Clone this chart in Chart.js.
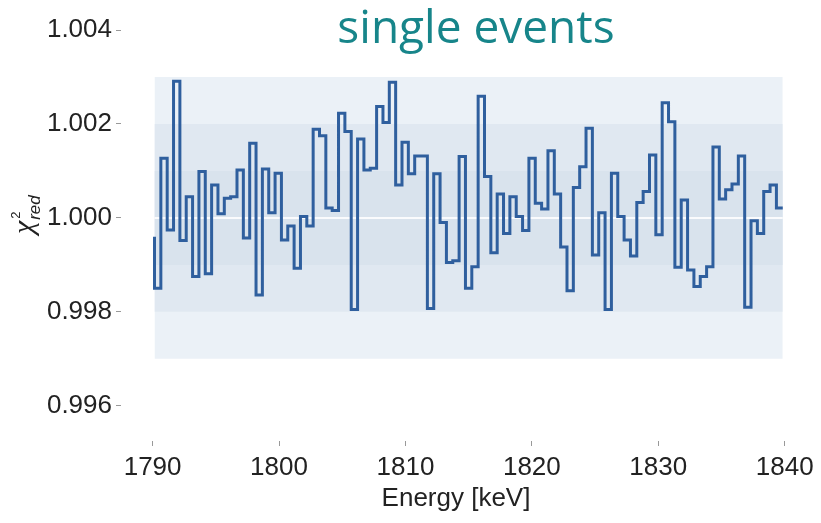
<!DOCTYPE html>
<html>
<head>
<meta charset="utf-8">
<script src="https://cdn.jsdelivr.net/npm/chart.js@4"></script>
<style>
  html, body { margin: 0; padding: 0; background: #ffffff; }
  #wrap { width: 821px; height: 523px; position: relative; }
</style>
</head>
<body>
<div id="wrap"><canvas id="chart" width="821" height="523"></canvas></div>
<script>
// Reduced chi-square per energy bin, single events
const binStart = 1790.15;   // keV, lower edge of the first bin
const binWidth = 0.502;     // keV
const chiStart = 0.99960;   // level the step trace starts from
const chiRed = [
  0.99850, 1.00127, 0.99974, 1.00291, 0.99952, 1.00045, 0.99875, 1.00099, 0.99881, 1.00070,
  1.00009, 1.00042, 1.00045, 1.00102, 0.99957, 1.00159, 0.99836, 1.00104, 1.00011, 1.00095,
  0.99953, 0.99983, 0.99893, 1.00003, 0.99983, 1.00189, 1.00175, 1.00021, 1.00016, 1.00223,
  1.00184, 0.99805, 1.00168, 1.00102, 1.00106, 1.00237, 1.00203, 1.00289, 1.00070, 1.00161,
  1.00094, 1.00132, 1.00132, 0.99807, 1.00094, 0.99990, 0.99905, 0.99909, 1.00131, 0.99850,
  0.99896, 1.00259, 1.00088, 0.99926, 1.00051, 0.99967, 1.00045, 1.00003, 0.99973, 1.00127,
  1.00031, 1.00019, 1.00143, 1.00051, 0.99938, 0.99845, 1.00065, 1.00109, 1.00191, 0.99921,
  1.00011, 0.99805, 1.00095, 1.00003, 0.99953, 0.99919, 1.00033, 1.00056, 1.00134, 0.99964,
  1.00245, 1.00205, 0.99895, 1.00038, 0.99889, 0.99854, 0.99875, 0.99896, 1.00151, 1.00040,
  1.00060, 1.00072, 1.00132, 0.99810, 0.99994, 0.99967, 1.00056, 1.00070, 1.00021
];
const expected = 1.000;
const sigmaLevels = [0.003, 0.002, 0.001];          // 3σ, 2σ, 1σ half-widths
const xTicks = [1790, 1800, 1810, 1820, 1830, 1840];
const yTicks = [0.996, 0.998, 1.000, 1.002, 1.004];

const bandColors = ['#ebf1f7', '#e0e8f1', '#d9e3ed'];
const lineColor = '#2f5f9e';
const tickFont = { family: 'Liberation Sans, Arial, sans-serif', size: 26 };

const nBins = chiRed.length;
const edges = [];
for (let i = 0; i <= nBins; i++) edges.push(binStart + i * binWidth);
const xLo = edges[0], xHi = edges[nBins];

// Step trace: each value holds over its bin
const stepPoints = [{ x: xLo, y: chiStart }];
chiRed.forEach((v, i) => stepPoints.push({ x: edges[i], y: v }));
stepPoints.push({ x: xHi, y: chiRed[nBins - 1] });

const datasets = [];
sigmaLevels.forEach((s, k) => {
  datasets.push({
    data: [{ x: xLo, y: expected + s }, { x: xHi, y: expected + s }],
    borderWidth: 0, pointRadius: 0, backgroundColor: bandColors[k],
    fill: '+1', order: 20 - k
  });
  datasets.push({
    data: [{ x: xLo, y: expected - s }, { x: xHi, y: expected - s }],
    borderWidth: 0, pointRadius: 0, fill: false, order: 20 - k
  });
});
datasets.push({
  data: [{ x: xLo, y: expected }, { x: xHi, y: expected }],
  borderColor: 'rgba(255,255,255,0.85)', borderWidth: 2, pointRadius: 0,
  fill: false, order: 5
});
datasets.push({
  data: stepPoints, stepped: 'before', borderColor: lineColor, borderWidth: 3,
  pointRadius: 0, fill: false, order: 0, borderJoinStyle: 'miter'
});

const overlayText = {
  id: 'overlayText',
  afterDraw(chart) {
    const ctx = chart.ctx;
    ctx.save();
    // heading
    ctx.fillStyle = '#17858a';
    ctx.font = '46px "Open Sans", sans-serif';
    ctx.textAlign = 'center';
    ctx.textBaseline = 'alphabetic';
    ctx.fillText('single events', 476, 43);
    // rotated y-axis label: χ²_red
    ctx.translate(33, 234);
    ctx.rotate(-Math.PI / 2);
    ctx.fillStyle = '#222';
    ctx.textAlign = 'left';
    ctx.font = 'italic 30px "Liberation Serif", serif';
    ctx.fillText('χ', 0, 0);
    const w = ctx.measureText('χ').width;
    ctx.font = '13px "Liberation Sans", sans-serif';
    ctx.fillText('2', w + 2, -13);
    ctx.font = 'italic 17px "Liberation Sans", sans-serif';
    ctx.fillText('red', w + 1, 7);
    ctx.restore();
  }
};

new Chart(document.getElementById('chart'), {
  type: 'line',
  data: { datasets },
  options: {
    responsive: false,
    animation: false,
    events: [],
    layout: { padding: { top: 23, right: 30, left: 0, bottom: 0 } },
    plugins: { legend: { display: false }, tooltip: { enabled: false }, title: { display: false } },
    scales: {
      x: {
        type: 'linear', min: 1787.5, max: 1840.5,
        border: { display: false },
        grid: { drawOnChartArea: false, drawTicks: true, tickLength: 5, tickColor: '#999' },
        afterBuildTicks: (scale) => { scale.ticks = xTicks.map(v => ({ value: v })); },
        afterFit: (scale) => { scale.height = 82; },
        ticks: { font: tickFont, color: '#222', padding: 6, maxRotation: 0, autoSkip: false,
                 callback: (v) => String(v) },
        title: { display: true, text: 'Energy [keV]', font: tickFont, color: '#222',
                 padding: { top: 0, bottom: 9 } }
      },
      y: {
        type: 'linear', min: 0.99525, max: 1.00415,
        border: { display: false },
        grid: { drawOnChartArea: false, drawTicks: true, tickLength: 5, tickColor: '#999' },
        afterBuildTicks: (scale) => { scale.ticks = yTicks.map(v => ({ value: v })); },
        afterFit: (scale) => { scale.width = 121; },
        ticks: { font: tickFont, color: '#222', padding: 4, autoSkip: false,
                 callback: (v) => Number(v).toFixed(3) }
      }
    }
  },
  plugins: [overlayText]
});
</script>
</body>
</html>
